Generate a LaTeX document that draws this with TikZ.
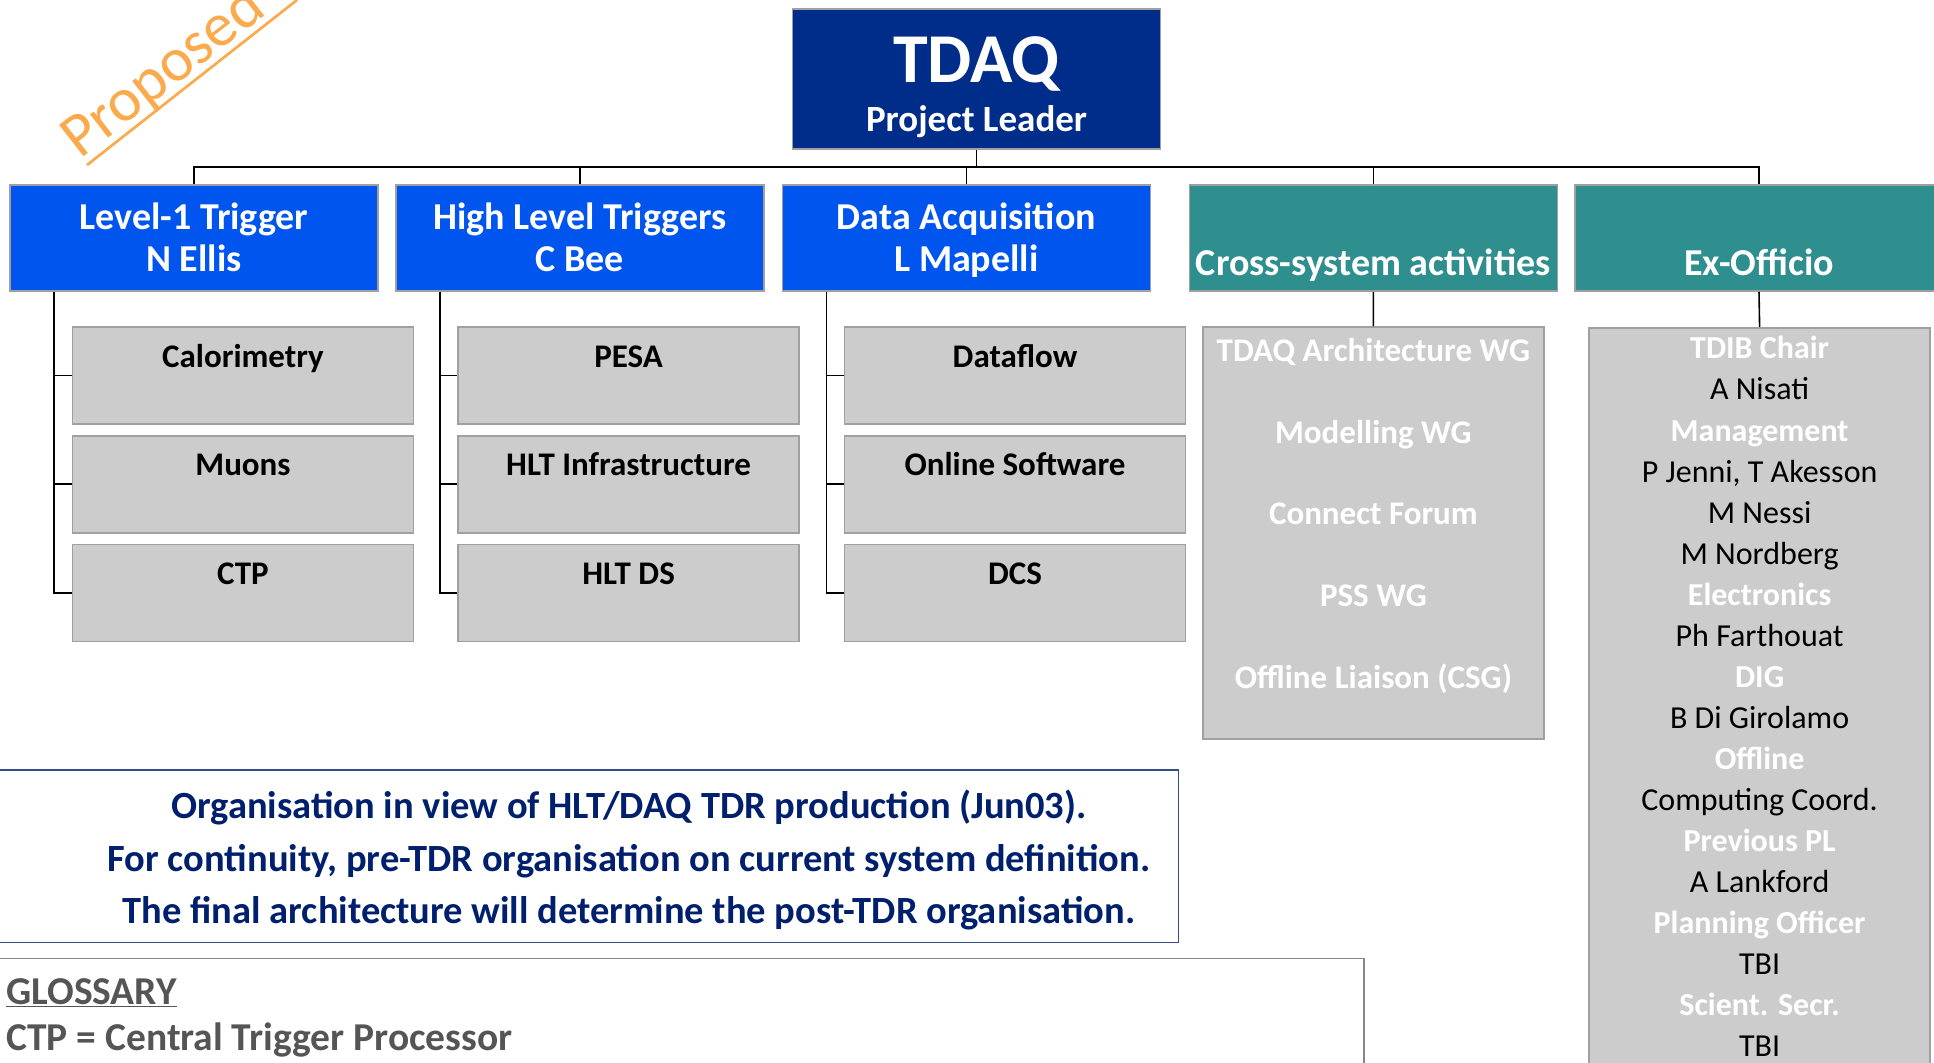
\documentclass[tikz,border=0pt]{standalone}
\usepackage{fontspec}
\setmainfont{Carlito}
\usepackage{tikz}

\definecolor{tdaqnavy}{RGB}{0,45,138}
\definecolor{sysblue}{RGB}{0,85,238}
\definecolor{crossteal}{RGB}{47,142,142}
\definecolor{subgray}{RGB}{204,204,204}
\definecolor{edgegray}{RGB}{160,160,160}
\definecolor{notenavy}{RGB}{0,32,110}
\definecolor{stamporange}{RGB}{251,170,78}
\definecolor{glossgray}{RGB}{85,85,85}

\tikzset{
  conn/.style={line width=1.6pt, black},
  topbox/.style={draw=edgegray, line width=1.6pt, fill=tdaqnavy, minimum width=368pt, inner sep=0pt,
    text=white, font=\fontsize{70}{72}\selectfont\bfseries, text height=73.5pt, text depth=66.5pt},
  headbox/.style={draw=edgegray, line width=1.6pt, fill=#1, minimum width=368pt, inner sep=0pt,
    text=white, font=\fontsize{38}{40}\selectfont\bfseries, text height=44pt, text depth=62pt},
  namelbl/.style={anchor=base, inner sep=0pt, text=white, font=\fontsize{38}{40}\selectfont\bfseries},
  subbox/.style={draw=edgegray, line width=1.6pt, fill=subgray, minimum width=341pt, inner sep=0pt,
    font=\fontsize{33}{35}\selectfont\bfseries, text height=40pt, text depth=57pt},
  listbox/.style={draw=edgegray, line width=1.6pt, fill=subgray, minimum width=341pt, inner sep=0pt},
  crossitem/.style={anchor=base, inner sep=0pt, text=white, font=\fontsize{33}{35}\selectfont\bfseries},
  exhead/.style={anchor=base, inner sep=0pt, text=white, font=\fontsize{32}{34}\selectfont\bfseries},
  exname/.style={anchor=base, inner sep=0pt, text=black, font=\fontsize{32}{34}\selectfont},
  notetext/.style={anchor=base, inner sep=0pt, text=notenavy, font=\fontsize{38.5}{40}\selectfont\bfseries},
  glosstext/.style={anchor=base west, inner sep=0pt, text=glossgray, font=\fontsize{39.5}{41}\selectfont\bfseries},
}

\begin{document}
\begin{tikzpicture}[x=1pt,y=-1pt]
  \useasboundingbox (0,0) rectangle (1934,1062);

  % watermark
  \draw[stamporange, line width=2.7pt] (87,165) -- (297,0);
  \node[anchor=base west, rotate=38, inner sep=0pt, text=stamporange,
        font=\fontsize{62}{64}\selectfont] (proposed) at (80,160) {Proposed};

  % top of the tree
  \node[topbox] (tdaq) at (976.6,79.2) {TDAQ};
  \node[namelbl, font=\fontsize{37}{39}\selectfont\bfseries] (tdaqrole) at ([yshift=-122.9pt]tdaq.north) {Project Leader};

  \node[headbox=sysblue] (lvl1) at (194,238) {Level-1 Trigger};
  \node[headbox=sysblue] (hlt) at (580,238) {High Level Triggers};
  \node[headbox=sysblue] (daq) at (966.4,238) {Data Acquisition};
  \node[headbox=crossteal, text height=90pt, text depth=16pt] (cross) at (1373.3,238) {Cross-system activities};
  \node[headbox=crossteal, text height=90pt, text depth=16pt] (exo) at (1759,238) {Ex-Officio};

  \node[namelbl] (lvl1name) at ([yshift=-87.3pt]lvl1.north) {N Ellis};
  \node[namelbl] (hltname) at ([yshift=-87.3pt]hlt.north) {C Bee};
  \node[namelbl] (daqname) at ([yshift=-87.3pt]daq.north) {L Mapelli};

  \coordinate (bus) at (976.6,167);
  \draw[conn] (tdaq.south) -- (tdaq.south |- bus);
  \draw[conn] (lvl1.north) -- (lvl1.north |- bus) -- (exo.north |- bus) -- (exo.north);
  \foreach \n in {hlt,daq,cross}
    \draw[conn] (\n.north) -- (\n.north |- bus);

  % sub-systems
  \foreach \n/\x/\y/\t in {calo/243/375.5/Calorimetry, muon/243/484.2/Muons, ctp/243/592.8/CTP,
      pesa/628.6/375.5/PESA, hltinf/628.6/484.2/HLT Infrastructure, hltds/628.6/592.8/HLT DS,
      dflow/1015/375.5/Dataflow, onl/1015/484.2/Online Software, dcs/1015/592.8/DCS}
    \node[subbox] (\n) at (\x,\y) {\t};

  \foreach \p/\a/\b/\c in {lvl1/calo/muon/ctp, hlt/pesa/hltinf/hltds, daq/dflow/onl/dcs}{
    \draw[conn] ([xshift=45pt]\p.south west) |- (\a.west);
    \draw[conn] ([xshift=45pt]\p.south west) |- (\b.west);
    \draw[conn] ([xshift=45pt]\p.south west) |- (\c.west);
  }

  % cross-system and ex-officio lists
  \node[listbox, minimum height=411.7pt] (crosslist) at (1373.4,532.85) {};
  \node[listbox, minimum height=762.3pt] (exlist) at (1759.6,708.85) {};
  \draw[conn] (cross.south) -- (crosslist.north);
  \draw[conn] (exo.south) -- (exlist.north);

  \foreach \t [count=\i] in {TDAQ Architecture WG, Modelling WG, Connect Forum, PSS WG, Offline Liaison (CSG)}
    \node[crossitem] (cs\i) at (1373.4,{361.3+81.75*(\i-1)}) {\t};

  \foreach \t/\s [count=\i] in {TDIB Chair/exhead, A Nisati/exname, Management/exhead,
      {P Jenni, T Akesson}/exname, M Nessi/exname, M Nordberg/exname, Electronics/exhead,
      Ph Farthouat/exname, DIG/exhead, B Di Girolamo/exname, Offline/exhead,
      Computing Coord./exname, Previous PL/exhead, A Lankford/exname,
      Planning Officer/exhead, TBI/exname, Scient. Secr./exhead, TBI/exname}
    \node[\s] (ex\i) at (1759.6,{358.9+41.05*(\i-1)}) {\t};

  % note and glossary
  \node[draw=notenavy!80, line width=1.4pt, minimum width=1198.6pt, minimum height=172.3pt, inner sep=0pt] (note) at (579.3,856.15) {};
  \foreach \t [count=\i] in {Organisation in view of HLT/DAQ TDR production (Jun03).,
      {For continuity, pre-TDR organisation on current system definition.},
      The final architecture will determine the post-TDR organisation.}
    \node[notetext] (note\i) at (629,{818.7+52.5*(\i-1)}) {\t};

  \node[draw=glossgray!70, line width=1.4pt, minimum width=1384pt, minimum height=141.7pt, inner sep=0pt] (gloss) at (672,1029.15) {};
  \node[glosstext] (glosshead) at (6,1004.5) {\underline{GLOSSARY}};
  \node[glosstext] (glossctp) at (6,1050) {CTP = Central Trigger Processor};
\end{tikzpicture}
\end{document}
